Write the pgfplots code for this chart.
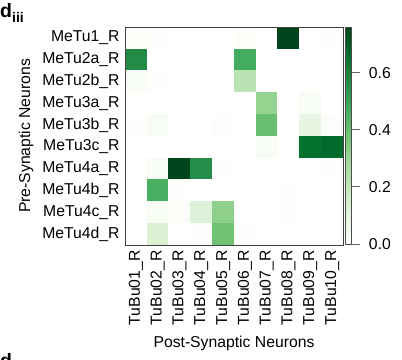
\documentclass[border=0pt]{standalone}
\usepackage{fontspec}
\setmainfont{Liberation Sans}
\usepackage{pgfplots}
\usepackage{pgfplotstable}
\pgfplotsset{compat=1.18}
\pgfplotstableread{
x y c
0 0 0.02
1 0 0.005
2 0 0
3 0 0
4 0 0
5 0 0.02
6 0 0
7 0 0.76
8 0 0
9 0 0.005
0 1 0.57
1 1 0
2 1 0
3 1 0
4 1 0
5 1 0.47
6 1 0
7 1 0
8 1 0
9 1 0
0 2 0.03
1 2 0.005
2 2 0
3 2 0
4 2 0
5 2 0.225
6 2 0
7 2 0
8 2 0
9 2 0
0 3 0
1 3 0
2 3 0
3 3 0
4 3 0
5 3 0
6 3 0.31
7 3 0
8 3 0.03
9 3 0
0 4 0.005
1 4 0.03
2 4 0
3 4 0
4 4 0.01
5 4 0
6 4 0.40
7 4 0
8 4 0.09
9 4 0.015
0 5 0
1 5 0
2 5 0
3 5 0
4 5 0
5 5 0
6 5 0.03
7 5 0
8 5 0.65
9 5 0.67
0 6 0
1 6 0.03
2 6 0.755
3 6 0.56
4 6 0.01
5 6 0
6 6 0
7 6 0
8 6 0
9 6 0.005
0 7 0
1 7 0.46
2 7 0.005
3 7 0
4 7 0
5 7 0
6 7 0
7 7 0.005
8 7 0
9 7 0
0 8 0
1 8 0.03
2 8 0.02
3 8 0.12
4 8 0.325
5 8 0
6 8 0
7 8 0.005
8 8 0
9 8 0
0 9 0
1 9 0.13
2 9 0
3 9 0.005
4 9 0.39
5 9 0.01
6 9 0
7 9 0
8 9 0
9 9 0
}\heat
\begin{document}
\fontsize{15.8}{18}\selectfont
\begin{tikzpicture}[x=1bp,y=1bp]
\useasboundingbox (0,0) rectangle (402,360);
\node[anchor=base west, inner sep=0] at (0,343) {\fontsize{19.5}{20}\selectfont\bfseries d};
\node[anchor=base west, inner sep=0] at (12,338) {\fontsize{14}{14}\selectfont\bfseries iii};
\node[anchor=base west, inner sep=0] at (0,-7) {\fontsize{19.5}{20}\selectfont\bfseries d};
\begin{axis}[
  at={(125bp,115bp)}, anchor=south west,
  scale only axis, width=218bp, height=218bp,
  xmin=-0.5, xmax=9.5, ymin=-0.5, ymax=9.5,
  y dir=reverse,
  axis on top,
  xtick={0,...,9}, ytick={0,...,9},
  xticklabels={TuBu01\_R,TuBu02\_R,TuBu03\_R,TuBu04\_R,TuBu05\_R,TuBu06\_R,TuBu07\_R,TuBu08\_R,TuBu09\_R,TuBu10\_R},
  yticklabels={MeTu1\_R,MeTu2a\_R,MeTu2b\_R,MeTu3a\_R,MeTu3b\_R,MeTu3c\_R,MeTu4a\_R,MeTu4b\_R,MeTu4c\_R,MeTu4d\_R},
  x tick label style={rotate=90, anchor=east},
  major tick length=0,
  tick label style={font=\fontsize{15.8}{18}\selectfont},
  label style={font=\fontsize{15.8}{18}\selectfont},
  xlabel={Post-Synaptic Neurons}, ylabel={Pre-Synaptic Neurons},
  ylabel style={at={(axis description cs:-0.454,0.5)}, anchor=center},
  axis line style={draw=black!75, line width=0.9bp},
  colormap={greens}{rgb255=(255,255,255) rgb255=(229,245,224) rgb255=(199,233,192) rgb255=(161,217,155) rgb255=(116,196,118) rgb255=(65,171,93) rgb255=(35,139,69) rgb255=(0,109,44) rgb255=(0,68,27)},
  point meta min=0, point meta max=0.76,
  colorbar shift/.style={xshift=2.5bp},
  colorbar,
  colorbar style={
    at={(parent axis.north east)}, anchor=north west,
    scale only axis, width=6bp, height=217bp,
    axis on top,
    ytick={0,0.2,0.4,0.6},
    ytick pos=right,
    tick align=outside,
    major tick length=9bp,
    major tick style={draw=black!60, line width=0.8bp},
    axis line style={draw=black!70, line width=0.6bp},
    yticklabel style={font=\fontsize{15.8}{18}\selectfont, xshift=3bp,
      /pgf/number format/.cd, fixed, fixed zerofill, precision=1, assume math mode=true},
  },
]
\addplot[matrix plot*, mesh/cols=10, point meta=explicit] table[x=x, y=y, meta=c] {\heat};
\end{axis}
\end{tikzpicture}
\end{document}
